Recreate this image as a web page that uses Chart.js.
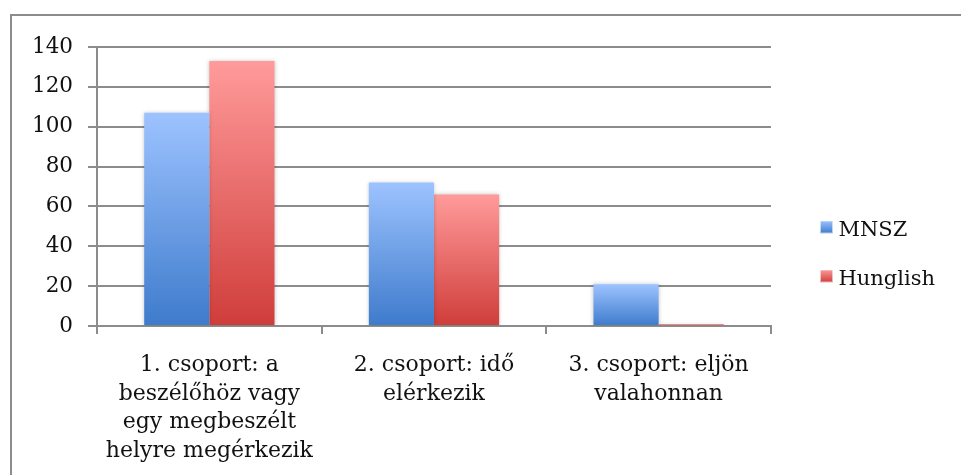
<!DOCTYPE html>
<html>
<head>
<meta charset="utf-8">
<script src="https://cdn.jsdelivr.net/npm/chart.js@4/dist/chart.umd.min.js"></script>
<style>
html,body{margin:0;padding:0;background:#fff;}
#wrap{width:961px;height:475px;}
</style>
</head>
<body>
<div id="wrap"><canvas id="c" width="961" height="475"></canvas></div>
<script>
const categories = [
  ["1. csoport: a", "beszélőhöz vagy", "egy megbeszélt", "helyre megérkezik"],
  ["2. csoport: idő", "elérkezik"],
  ["3. csoport: eljön", "valahonnan"]
];
const seriesNames = ["MNSZ", "Hunglish"];
const mnsz = [107, 72, 21];
const hunglish = [133, 66, 1];
const yTicks = { min: 0, max: 140, step: 20 };

const FONT = "'DejaVu Serif', serif";
const GRID = '#8c8c8c';
const TEXT = '#111111';

const palettes = {
  blue: { top: '#9DC3FF', bottom: '#3E7BCC', solid: '#6E9FE8' },
  red:  { top: '#FF9B9B', bottom: '#CF3D3A', solid: '#E86A6A' }
};

function gradientFill(pal) {
  return function (c) {
    const chart = c.chart;
    if (c.type !== 'data' || !chart.chartArea || !chart.scales.y) return pal.solid;
    const y = chart.scales.y;
    const top = y.getPixelForValue(c.parsed.y);
    const base = y.getPixelForValue(0);
    if (!isFinite(top) || base - top < 1) return pal.bottom;
    const g = chart.ctx.createLinearGradient(0, top, 0, base);
    g.addColorStop(0, pal.top);
    g.addColorStop(1, pal.bottom);
    return g;
  };
}

function legendIcon(pal) {
  const cv = document.createElement('canvas');
  cv.width = 13; cv.height = 21;
  const x = cv.getContext('2d');
  const g = x.createLinearGradient(0, 0, 0, 13);
  g.addColorStop(0, pal.top);
  g.addColorStop(1, pal.bottom);
  x.fillStyle = g;
  x.fillRect(0, 0, 13, 13);
  x.strokeStyle = 'rgba(255,255,255,0.6)';
  x.lineWidth = 1;
  x.strokeRect(0.5, 0.5, 12, 12);
  return cv;
}

const frame = {
  id: 'frame',
  beforeDraw(chart) {
    const ctx = chart.ctx;
    ctx.save();
    ctx.strokeStyle = GRID;
    ctx.lineWidth = 2;
    ctx.strokeRect(11, 15, 2000, 2000);
    ctx.restore();
  }
};

const shadow = {
  id: 'shadow',
  beforeDatasetsDraw(chart) {
    const ctx = chart.ctx;
    ctx.save();
    ctx.shadowColor = 'rgba(0,0,0,0.22)';
    ctx.shadowBlur = 4;
    ctx.shadowOffsetX = 0;
    ctx.shadowOffsetY = 0;
  },
  afterDatasetsDraw(chart) {
    chart.ctx.restore();
  }
};

new Chart(document.getElementById('c'), {
  type: 'bar',
  data: {
    labels: categories,
    datasets: [
      { label: seriesNames[0], data: mnsz, backgroundColor: gradientFill(palettes.blue), borderWidth: 0,
        pointStyle: legendIcon(palettes.blue) },
      { label: seriesNames[1], data: hunglish, backgroundColor: gradientFill(palettes.red), borderWidth: 0,
        pointStyle: legendIcon(palettes.red) }
    ]
  },
  options: {
    responsive: false,
    animation: false,
    devicePixelRatio: 1,
    layout: { padding: { left: 17, top: 47, right: 16, bottom: 11 } },
    datasets: { bar: { barPercentage: 1, categoryPercentage: 0.58 } },
    plugins: {
      legend: {
        position: 'right',
        labels: {
          usePointStyle: true,
          boxWidth: 3,
          padding: 28,
          color: TEXT,
          font: { family: FONT, size: 21 }
        }
      },
      tooltip: { enabled: false }
    },
    scales: {
      x: {
        grid: { display: true, drawOnChartArea: false, drawTicks: true, tickLength: 8, color: GRID, lineWidth: 2, offset: true },
        border: { display: true, color: GRID, width: 2 },
        ticks: { color: TEXT, padding: 17, maxRotation: 0, autoSkip: false,
                 font: { family: FONT, size: 22, lineHeight: 1.3 } },
        afterFit(s) { s.height = 138; }
      },
      y: {
        min: yTicks.min, max: yTicks.max,
        grid: { color: GRID, lineWidth: 2, tickLength: 9 },
        border: { display: true, color: GRID, width: 2 },
        ticks: { stepSize: yTicks.step, color: TEXT, padding: 15,
                 font: { family: FONT, size: 21.5 } }
      },
      gap: {
        type: 'linear', position: 'right', display: true,
        grid: { display: false, drawOnChartArea: false },
        border: { display: false },
        ticks: { display: false },
        afterFit(s) { s.width = 26; }
      }
    }
  },
  plugins: [frame, shadow]
});
</script>
</body>
</html>
